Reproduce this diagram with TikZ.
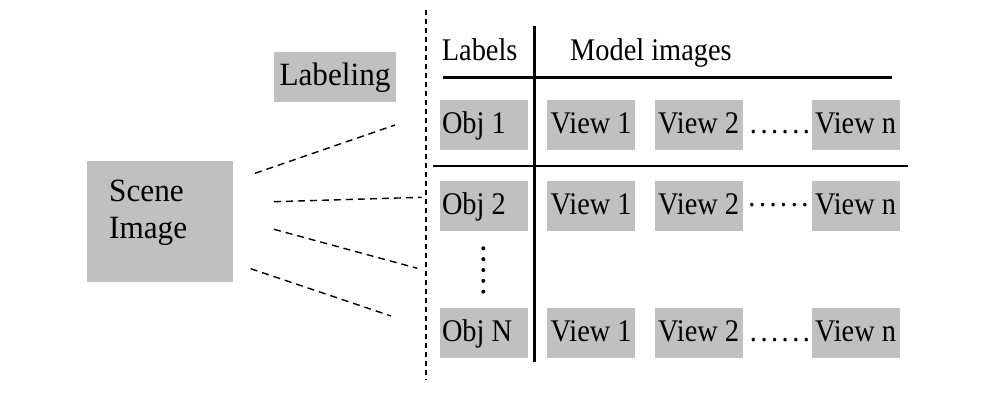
\documentclass[tikz,border=0pt]{standalone}
\usepackage{fontspec}
\setmainfont{Liberation Serif}
\newfontfamily\tabfont[FakeStretch=0.9]{Liberation Serif}
\newfontfamily\bigfont[FakeStretch=0.96]{Liberation Serif}
\definecolor{boxgray}{RGB}{192,192,192}
\tikzset{
  cell/.style={fill=boxgray, minimum width=88pt, minimum height=50pt, inner sep=0pt,
    text height=23pt, text depth=6.4pt, font=\tabfont\fontsize{31.5}{36}\selectfont},
  objcell/.style={cell, inner xsep=2pt},
  big/.style={font=\bigfont\fontsize{32.5}{36.6}\selectfont},
  tabtext/.style={font=\tabfont\fontsize{31.5}{36}\selectfont, inner sep=0pt},
  link/.style={dash pattern=on 7pt off 5pt, line width=1.4pt},
  divider/.style={dash pattern=on 5pt off 4pt, line width=1.4pt},
}
\newcommand{\objtxt}[1]{\makebox[83.7pt][l]{#1}}
\newcommand{\hdots}{.\hspace{3.5pt}.\hspace{3.5pt}.\hspace{3.5pt}.\hspace{3.5pt}.\hspace{3.5pt}.}
\newcommand{\mdots}{\raisebox{7.5pt}{\hdots}}
\begin{document}
\begin{tikzpicture}[x=1pt,y=-1pt]
\useasboundingbox (0,0) rectangle (1004,397);

% scene image and labeling step
\node[fill=boxgray, minimum width=146pt, minimum height=121.6pt, inner sep=0pt] (scene) at (160.3,221.5) {};
\node[big, anchor=base west, align=left, inner sep=0pt] (scenetxt) at (109,238.3) {Scene\\Image};
\node[fill=boxgray, minimum width=122pt, minimum height=49.7pt, inner sep=0pt,
      big, text height=24pt, text depth=8.4pt] (labeling) at (335,77.2) {Labeling};

% separator between scene and database
\coordinate (sepT) at (426,10);
\coordinate (sepB) at (426,380);
\draw[divider] (sepT) -- (sepB);

% dashed links from the scene to the object labels
\coordinate (a1) at (255,173.3);  \coordinate (b1) at (395,125);
\coordinate (a2) at (274,201.7);  \coordinate (b2) at (421.7,197.3);
\coordinate (a3) at (274,229.3);  \coordinate (b3) at (417.3,268.3);
\coordinate (a4) at (250.7,268.7); \coordinate (b4) at (391,316);
\draw[link] (a1) -- (b1);
\draw[link] (a2) -- (b2);
\draw[link] (a3) -- (b3);
\draw[link] (a4) -- (b4);

% table header
\node[tabtext, anchor=base west] (hlabels) at (441.7,60) {Labels};
\node[tabtext, anchor=base west] (hmodel) at (570,60) {Model images};
\coordinate (vT) at (534.3,26);  \coordinate (vB) at (534.3,361.7);
\draw[line width=2.6pt] (vT) -- (vB);
\coordinate (h1L) at (443.3,77.7); \coordinate (h1R) at (892.3,77.7);
\draw[line width=3pt] (h1L) -- (h1R);
\coordinate (h2L) at (433.3,166); \coordinate (h2R) at (908.3,166);
\draw[line width=2pt] (h2L) -- (h2R);

% rows
\node[objcell] (o1) at (483.85,125) {\objtxt{Obj 1}};
\node[cell] (o1v1) at (591.15,125) {View 1};
\node[cell] (o1v2) at (698.7,125) {View 2};
\node[tabtext, anchor=base] (o1d) at (780,133.3) {\hdots};
\node[cell] (o1vn) at (855.5,125) {View n};

\node[objcell] (o2) at (483.85,206) {\objtxt{Obj 2}};
\node[cell] (o2v1) at (591.15,206) {View 1};
\node[cell] (o2v2) at (698.7,206) {View 2};
\node[tabtext, anchor=base] (o2d) at (778.5,214.3) {\mdots};
\node[cell] (o2vn) at (855.5,206) {View n};

\node[objcell] (oN) at (483.85,333) {\objtxt{Obj N}};
\node[cell] (oNv1) at (591.15,333) {View 1};
\node[cell] (oNv2) at (698.7,333) {View 2};
\node[tabtext, anchor=base] (oNd) at (780,341.3) {\hdots};
\node[cell] (oNvn) at (855.5,333) {View n};

% vertical ellipsis between Obj 2 and Obj N
\foreach \k in {0,...,4}
  \fill (483.3,248.3+\k*10.85) circle (2pt);
\end{tikzpicture}
\end{document}
